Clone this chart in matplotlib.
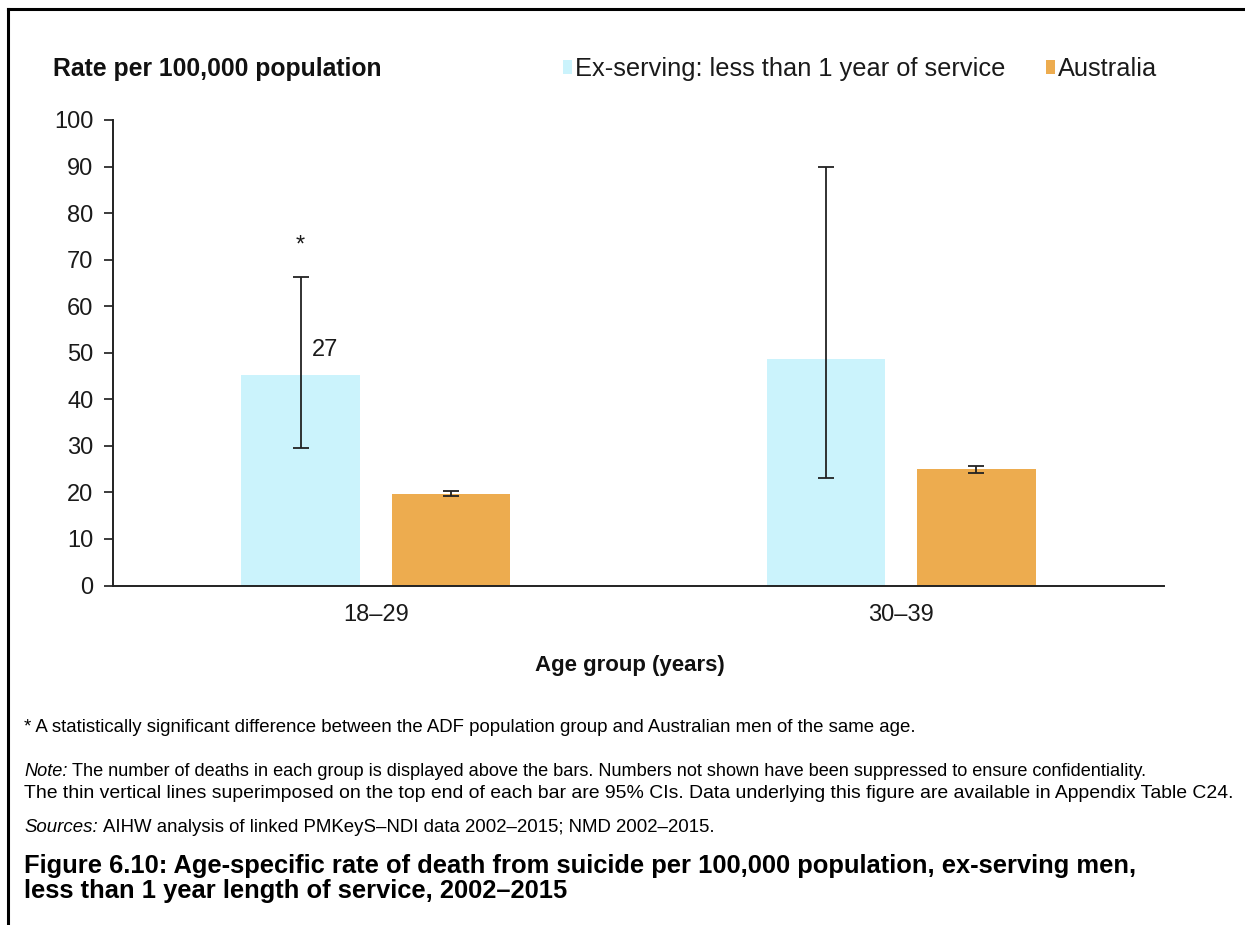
import matplotlib
matplotlib.use("Agg")
import matplotlib.pyplot as plt
from matplotlib.lines import Line2D
from matplotlib.patches import Patch
import numpy as np

plt.rcParams['font.family'] = ['Liberation Sans', 'DejaVu Sans']

# Data
categories = ["18\u201329", "30\u201339"]
series_names = ["Ex-serving: less than 1 year of service", "Australia"]
ex_serving = [45.2, 48.6]
ex_lo = [29.5, 23.2]
ex_hi = [66.2, 89.9]
australia = [19.7, 25.0]
aus_lo = [19.2, 24.2]
aus_hi = [20.3, 25.6]
deaths_labels = ["27", ""]
significant = ["*", ""]

c_ex = "#CBF3FC"
c_aus = "#EDAC4F"
txt = "#1a1a1a"

W, H = 1245, 925
fig = plt.figure(figsize=(W / 100, H / 100), dpi=100)
ax = fig.add_axes([113 / W, 1 - 585.5 / H, (1164 - 113) / W, (585.5 - 120) / H])

x = np.arange(len(categories))
off = 0.143
bw = 0.225
ex_err = [np.array(ex_serving) - np.array(ex_lo), np.array(ex_hi) - np.array(ex_serving)]
aus_err = [np.array(australia) - np.array(aus_lo), np.array(aus_hi) - np.array(australia)]
ax.bar(x - off, ex_serving, bw, color=c_ex, zorder=2)
ax.bar(x + off, australia, bw, color=c_aus, zorder=2)
ax.errorbar(x - off, ex_serving, yerr=ex_err, fmt="none", ecolor="#222222",
            elinewidth=1.3, capsize=6, capthick=1.3, zorder=3)
ax.errorbar(x + off, australia, yerr=aus_err, fmt="none", ecolor="#222222",
            elinewidth=1.3, capsize=6, capthick=1.3, zorder=3)

for i in range(len(categories)):
    if deaths_labels[i]:
        ax.text(x[i] - off + 0.021, 50.6, deaths_labels[i],
                ha="left", va="center", fontsize=17, color=txt)
    if significant[i]:
        ax.text(x[i] - off, ex_hi[i] + 6.8, significant[i], ha="center", va="center",
                fontsize=17, color=txt)

ax.set_xlim(-0.5, 1.5)
ax.set_ylim(0, 100)
ax.set_yticks(np.arange(0, 101, 10))
ax.set_xticks(x)
ax.set_xticklabels(categories)
ax.tick_params(axis="y", direction="out", length=6.5, width=1.2, labelsize=17, pad=7.5, colors=txt)
ax.tick_params(axis="x", length=0, labelsize=17, pad=13, colors=txt)
for s in ["top", "right"]:
    ax.spines[s].set_visible(False)
for s in ["left", "bottom"]:
    ax.spines[s].set_linewidth(1.4)
    ax.spines[s].set_color("#222222")

# Titles
fig.text(53 / W, 1 - 69 / H, "Rate per 100,000 population", fontsize=17.8, fontweight="bold",
         ha="left", va="center", color="#111111")
fig.text(630 / W, 1 - 666 / H, "Age group (years)", fontsize=16, fontweight="bold",
         ha="center", va="center", color="#111111")

handles = [Patch(facecolor=c_ex, edgecolor="none"), Patch(facecolor=c_aus, edgecolor="none")]
fig.legend(handles, series_names, loc="center left", bbox_to_anchor=(563 / W, 1 - 69 / H),
           ncol=2, frameon=False, fontsize=18.3, handlelength=0.36, handleheight=0.5,
           handletextpad=0.12, columnspacing=1.6, borderaxespad=0, borderpad=0,
           labelcolor=txt)

# Footnotes
fs = 13.4
renderer = fig.canvas.get_renderer()


def mixed(xpx, ypx, italic_part, rest, size):
    t = fig.text(xpx / W, 1 - ypx / H, italic_part, fontsize=size, style="italic",
                 ha="left", va="center", color="black")
    bb = t.get_window_extent(renderer=renderer)
    fig.text(bb.x1 / W + 5 / W, 1 - ypx / H, rest, fontsize=size, ha="left", va="center", color="black")


fig.text(24 / W, 1 - 727 / H,
         "* A statistically significant difference between the ADF population group and Australian men of the same age.",
         fontsize=fs, ha="left", va="center")
mixed(24, 771, "Note:",
      "The number of deaths in each group is displayed above the bars. Numbers not shown have been suppressed to ensure confidentiality.",
      13.05)
fig.text(24 / W, 1 - 794 / H,
         "The thin vertical lines superimposed on the top end of each bar are 95% CIs. Data underlying this figure are available in Appendix Table C24.",
         fontsize=13.93, ha="left", va="center")
mixed(24, 827, "Sources:",
      "AIHW analysis of linked PMKeyS\u2013NDI data 2002\u20132015; NMD 2002\u20132015.", fs)
fig.text(24 / W, 1 - 866 / H,
         "Figure 6.10: Age-specific rate of death from suicide per 100,000 population, ex-serving men,",
         fontsize=18.4, fontweight="bold", ha="left", va="center")
fig.text(24 / W, 1 - 891 / H,
         "less than 1 year length of service, 2002\u20132015",
         fontsize=18.4, fontweight="bold", ha="left", va="center")

# Frame (top and left)
fig.add_artist(Line2D([8 / W, 1], [1 - 8.5 / H, 1 - 8.5 / H], transform=fig.transFigure,
                      color="black", linewidth=2.2))
fig.add_artist(Line2D([8 / W, 8 / W], [0, 1 - 8.5 / H], transform=fig.transFigure,
                      color="black", linewidth=2.2))

fig.savefig("out.png", dpi=100, facecolor="white")
